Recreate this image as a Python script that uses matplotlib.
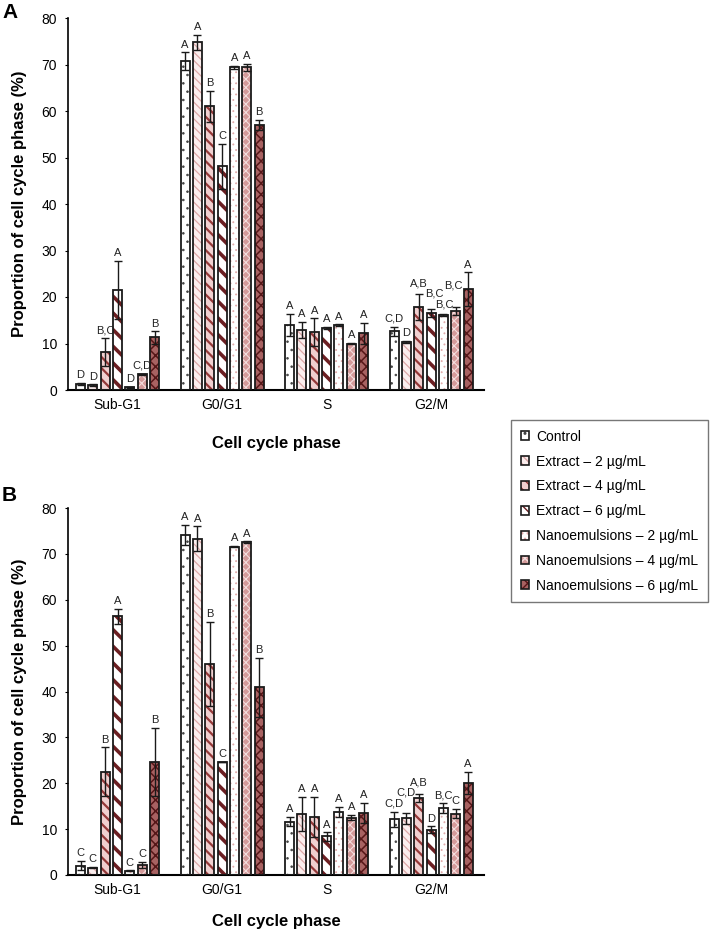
import matplotlib
matplotlib.use("Agg")
import matplotlib.pyplot as plt
import matplotlib.patches as mpatches
import matplotlib.transforms as mtransforms
from matplotlib.legend_handler import HandlerTuple
import numpy as np

plt.rcParams['font.family'] = ['Liberation Sans', 'DejaVu Sans']

phases = ["Sub-G1", "G0/G1", "S", "G2/M"]
series = ["Control", "Extract \u2013 2 \u00b5g/mL", "Extract \u2013 4 \u00b5g/mL",
          "Extract \u2013 6 \u00b5g/mL", "Nanoemulsions \u2013 2 \u00b5g/mL",
          "Nanoemulsions \u2013 4 \u00b5g/mL", "Nanoemulsions \u2013 6 \u00b5g/mL"]

# Panel A values (rows = series, cols = phases)
a_control = [1.3, 70.7, 14.0, 12.6]
a_ext2 = [1.0, 74.8, 12.9, 10.4]
a_ext4 = [8.1, 61.0, 12.4, 17.9]
a_ext6 = [21.5, 48.1, 13.4, 16.5]
a_nano2 = [0.6, 69.4, 13.9, 16.1]
a_nano4 = [3.4, 69.4, 10.0, 17.0]
a_nano6 = [11.3, 57.0, 12.2, 21.7]

a_err_control = [0.2, 1.9, 2.3, 1.0]
a_err_ext2 = [0.2, 1.6, 1.7, 0.2]
a_err_ext4 = [3.0, 3.3, 3.0, 2.8]
a_err_ext6 = [6.2, 4.8, 0.2, 0.9]
a_err_nano2 = [0.1, 0.3, 0.2, 0.2]
a_err_nano4 = [0.1, 0.7, 0.2, 0.9]
a_err_nano6 = [1.3, 1.1, 2.3, 3.6]

a_letters = [
    ["D", "A", "A", "C,D"],
    ["D", "A", "A", "D"],
    ["B,C", "B", "A", "A,B"],
    ["A", "C", "A", "B,C"],
    ["D", "A", "A", "B,C"],
    ["C,D", "A", "A", "B,C"],
    ["B", "B", "A", "A"],
]

# Panel B values
b_control = [2.0, 74.2, 11.6, 12.1]
b_ext2 = [1.6, 73.3, 13.3, 12.4]
b_ext4 = [22.5, 46.0, 12.7, 16.8]
b_ext6 = [56.4, 24.7, 8.4, 9.9]
b_nano2 = [0.9, 71.6, 13.8, 14.6]
b_nano4 = [2.2, 72.5, 12.5, 13.4]
b_nano6 = [24.7, 40.9, 13.6, 20.0]

b_err_control = [1.0, 2.2, 1.0, 1.7]
b_err_ext2 = [0.1, 2.7, 3.8, 1.2]
b_err_ext4 = [5.3, 9.2, 4.4, 0.8]
b_err_ext6 = [1.6, 0.0, 0.9, 0.7]
b_err_nano2 = [0.1, 0.2, 1.1, 1.0]
b_err_nano4 = [0.7, 0.2, 0.6, 1.0]
b_err_nano6 = [7.4, 6.5, 2.2, 2.4]

b_letters = [
    ["C", "A", "A", "C,D"],
    ["C", "A", "A", "C,D"],
    ["B", "B", "A", "A,B"],
    ["A", "C", "A", "D"],
    ["C", "A", "A", "B,C"],
    ["C", "A", "A", "C"],
    ["B", "B", "A", "A"],
]

yticks = [0, 10, 20, 30, 40, 50, 60, 70, 80]

# style per series: (fill, hatch, hatch color, hatch linewidth)
styles = [
    ("white", "..", "#444444", 0.6),
    ("#fbeeee", "\\\\\\\\", "#dba7a7", 0.9),
    ("#f0d0d0", "\\\\\\", "#943838", 1.6),
    ("white", "\\\\", "#6b1f22", 2.6),
    ("white", "...", "#e0aaaa", 0.6),
    ("#d49a9a", "xxxx", "#f4dede", 0.8),
    ("#a86262", "xxx", "#561618", 1.1),
]

# manual nudges of letter labels, in pixels (dx, dy): (panel, series, phase)
label_nudge = {
    ("A", 2, 3): (0, 2),
    ("A", 3, 3): (3, 8),
    ("A", 4, 3): (1, 2),
    ("A", 5, 3): (-2, 13),
    ("B", 1, 3): (0, 12),
    ("B", 2, 3): (0, 4),
}

W, H = 711, 931
fig = plt.figure(figsize=(W / 100, H / 100), dpi=100)

x = np.arange(len(phases))
pitch = 0.118
width = 0.086


def draw_panel(ax, vals, errs, letters, panel, xlabelpad):
    for i, (v, e) in enumerate(zip(vals, errs)):
        fill, hatch, hcol, hlw = styles[i]
        pos = x + (i - 3) * pitch
        bars = ax.bar(pos, v, width, color=fill, edgecolor=hcol, hatch=hatch,
                      linewidth=0, zorder=2)
        for b in bars:
            if hasattr(b, "set_hatch_linewidth"):
                b.set_hatch_linewidth(hlw)
        ax.bar(pos, v, width, fill=False, edgecolor="#1a1a1a", linewidth=1.3, zorder=3)
        ax.errorbar(pos, v, yerr=e, fmt="none", ecolor="#1a1a1a", elinewidth=1.0,
                    capsize=3.2, capthick=1.0, zorder=4)
        for j in range(len(phases)):
            dx, dy = label_nudge.get((panel, i, j), (0, 0))
            tr = mtransforms.offset_copy(ax.transData, fig=fig, x=dx, y=dy, units="dots")
            ax.text(pos[j], v[j] + e[j] + 0.6, letters[i][j], ha="center", va="bottom",
                    fontsize=8, color="#222222", zorder=5, transform=tr)
    ax.set_xlim(-0.474, 3.507)
    ax.set_ylim(0, 80)
    ax.set_yticks(yticks)
    ax.set_xticks(x)
    ax.set_xticklabels(phases, fontsize=10)
    ax.tick_params(axis="x", length=0, pad=6)
    ax.tick_params(axis="y", length=2, labelsize=10, pad=6)
    for s in ["top", "right"]:
        ax.spines[s].set_visible(False)
    ax.spines["left"].set_linewidth(1.2)
    ax.spines["bottom"].set_linewidth(1.5)
    ax.set_ylabel("Proportion of cell cycle phase (%)", fontsize=12, fontweight="bold", labelpad=10)
    ax.set_xlabel("Cell cycle phase", fontsize=12, fontweight="bold", labelpad=xlabelpad)


axA = fig.add_axes([68 / W, 1 - 390 / H, 416 / W, 372 / H])
axB = fig.add_axes([68 / W, 1 - 875 / H, 416 / W, 367 / H])

draw_panel(axA,
           [a_control, a_ext2, a_ext4, a_ext6, a_nano2, a_nano4, a_nano6],
           [a_err_control, a_err_ext2, a_err_ext4, a_err_ext6, a_err_nano2, a_err_nano4, a_err_nano6],
           a_letters, "A", 17)
draw_panel(axB,
           [b_control, b_ext2, b_ext4, b_ext6, b_nano2, b_nano4, b_nano6],
           [b_err_control, b_err_ext2, b_err_ext4, b_err_ext6, b_err_nano2, b_err_nano4, b_err_nano6],
           b_letters, "B", 12)

fig.text(2 / W, 1 - 12 / H, "A", fontsize=15, fontweight="bold", va="center", ha="left")
fig.text(2 / W, 1 - 496 / H, "B", fontsize=15, fontweight="bold", va="center", ha="left")

handles = []
for i in range(len(series)):
    fill, hatch, hcol, hlw = styles[i]
    p1 = mpatches.Patch(facecolor=fill, edgecolor=hcol, hatch=hatch, linewidth=0)
    p2 = mpatches.Patch(facecolor="none", edgecolor="#1a1a1a", linewidth=1.2)
    handles.append((p1, p2))

leg = fig.legend(handles, series, loc="upper left",
                 bbox_to_anchor=(511 / W, 1 - 420 / H), bbox_transform=fig.transFigure,
                 handler_map={tuple: HandlerTuple(ndivide=1, pad=0)},
                 fontsize=10, frameon=True, fancybox=False, edgecolor="#555555",
                 handlelength=0.6, handleheight=0.6, handletextpad=0.5,
                 labelspacing=0.78, borderpad=0.7, borderaxespad=0)
leg.get_frame().set_linewidth(1.0)

fig.savefig("out.png", dpi=100)
